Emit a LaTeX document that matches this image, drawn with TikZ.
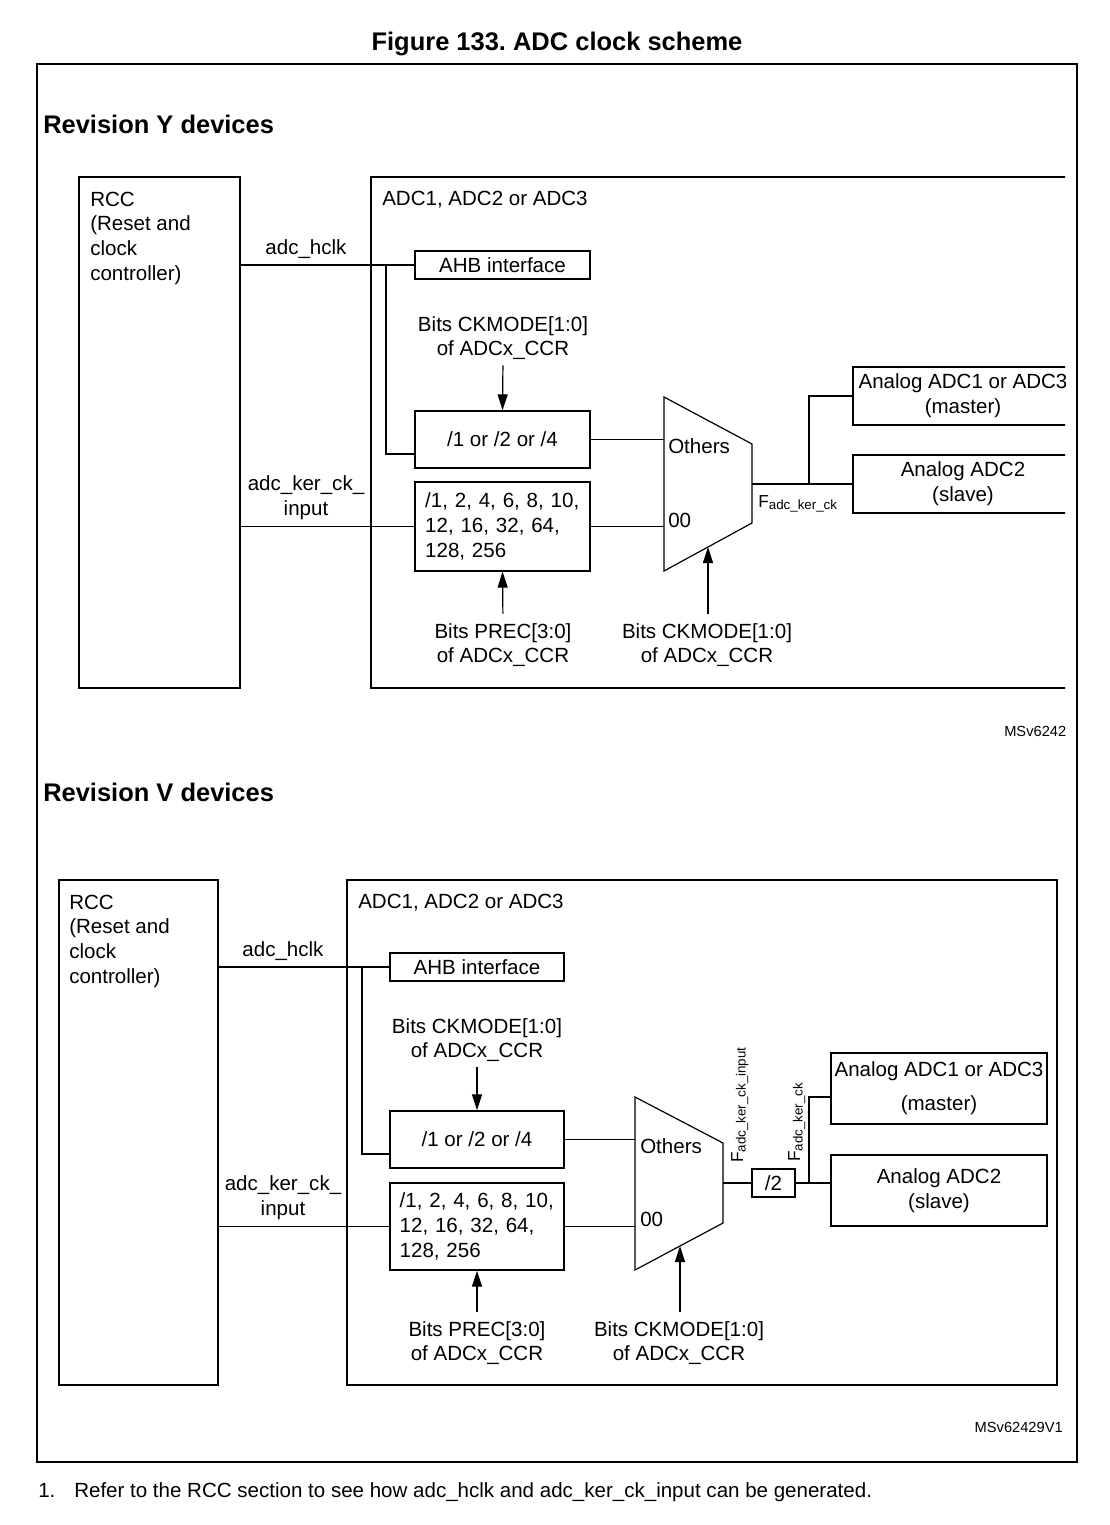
\documentclass[tikz,border=0pt]{standalone}
\usepackage{fontspec}
\setmainfont{Liberation Sans}
\usetikzlibrary{arrows.meta}
\frenchspacing
\newcommand\fsbody{\fontsize{15.4pt}{18.5pt}\selectfont}
\newcommand\fshead{\bfseries\fontsize{19.1pt}{22pt}\selectfont}
\newcommand\fssmall{\fontsize{11pt}{13pt}\selectfont}
\newcommand\fsF{\fontsize{13pt}{15pt}\selectfont}
\newcommand\fsSub{\fontsize{10pt}{12pt}\selectfont}
\newcommand\Fsub[1]{{\fsF F\raisebox{-2pt}{\fsSub #1}}}
\begin{document}
\begin{tikzpicture}[x=0.75pt,y=-0.75pt,
  every node/.style={inner sep=0pt, font=\fsbody},
  bigbox/.style={draw, line width=1.8pt},
  sbox/.style={draw, line width=1pt},
  sz/.style 2 args={minimum width=#1*0.75pt, minimum height=#2*0.75pt},
  wire/.style={line width=0.9pt},
  arr/.style={line width=0.9pt, -{Triangle[width=7.5pt,length=12pt]}},
  lbl/.style={align=center},
  head/.style={anchor=west, font=\fshead}]
\useasboundingbox (0,0) rectangle (1110,1525);

\node[font=\fshead] (title) at (557,44) {Figure 133. ADC clock scheme};
\node[draw, line width=1.5pt, sz={1040}{1398}] (frame) at (557,763) {};

% ---------------- Revision Y ----------------
\node[head] (revY) at (43,124) {Revision Y devices};
\begin{scope}
\clip (30,150) rectangle (1065,760);
\node[bigbox, sz={161}{511}] (rccY) at (159.5,432.5) {};
\node[anchor=north west, align=left] (rccYt) at (90,191.5) {RCC\\(Reset and\\clock\\controller)};
\node[bigbox, sz={720}{511}] (adcY) at (731,432.5) {};
\node[anchor=west] (adcYt) at (382,200) {ADC1, ADC2 or ADC3};
\node[sbox, sz={175}{28}] (ahbY) at (502.5,265) {AHB interface};
\node[sbox, sz={175}{57}] (divY) at (502.5,439.5) {/1 or /2 or /4};
\node[sbox, sz={175}{89}, align=left, text width=116pt] (preY) at (502.5,526.5) {/1, 2, 4, 6, 8, 10,\\12, 16, 32, 64,\\128, 256};
\node[sbox, sz={220}{58}, align=center] (mastY) at (963,396) {Analog ADC1 or ADC3\\(master)};
\node[sbox, sz={220}{58}, align=center] (slavY) at (963,484) {Analog ADC2\\(slave)};

\coordinate (mYa) at (664,397);
\coordinate (mYb) at (752,444);
\coordinate (mYc) at (752,523);
\coordinate (mYd) at (664,571);
\coordinate (mYout) at (752,484);
\coordinate (mYsel) at (708,547);
\draw[wire] (mYa) -- (mYb) -- (mYc) -- (mYd) -- cycle;
\node[anchor=west] (othY) at (668,446) {Others};
\node[anchor=west] (zzY) at (668,520) {00};

\node[lbl] (hclkY) at (306,249) {adc\_hclk};
\node[lbl] (kerY) at (306,498) {adc\_ker\_ck\_\\input};
\node[lbl] (ckmY1) at (503,338) {Bits CKMODE[1:0]\\of ADCx\_CCR};
\node[lbl] (precY) at (503,645) {Bits PREC[3:0]\\of ADCx\_CCR};
\node[lbl] (ckmY2) at (707,645) {Bits CKMODE[1:0]\\of ADCx\_CCR};

\coordinate (bY) at (386,265);
\coordinate (divYin) at (415,454);
\coordinate (jY) at (809,484);
\draw[wire] (rccY.east |- ahbY.west) -- (ahbY.west);
\draw[wire] (bY) |- (divYin);
\draw[wire] (rccY.east |- preY.west) -- (preY.west);
\draw[wire] (divY.east) -- (divY.east -| mYa);
\draw[wire] (preY.east) -- (preY.east -| mYa);
\draw[wire] (mYout) -- (slavY.west |- mYout);
\draw[wire] (jY) |- (mastY.west);
\draw[arr, shorten <=4pt] (ckmY1.south) -- (divY.north);
\draw[arr, shorten <=7pt] (precY.north) -- (preY.south);
\draw[arr, shorten <=7pt] (ckmY2.north -| mYsel) -- (mYsel);

\node[anchor=base west] (fY) at (758,507) {\Fsub{adc\_ker\_ck}};
\node[anchor=west, font=\fssmall] (msY) at (1004,731) {MSv62429V1};
\end{scope}

% ---------------- Revision V ----------------
\node[head] (revV) at (43,792) {Revision V devices};
\node[bigbox, sz={159}{505}] (rccV) at (138.5,1132.5) {};
\node[anchor=north west, align=left] (rccVt) at (69,894.5) {RCC\\(Reset and\\clock\\controller)};
\node[bigbox, sz={710}{505}] (adcV) at (702,1132.5) {};
\node[anchor=west] (adcVt) at (358,903) {ADC1, ADC2 or ADC3};
\node[sbox, sz={174}{28}] (ahbV) at (477,967) {AHB interface};
\node[sbox, sz={174}{57}] (divV) at (477,1139.5) {/1 or /2 or /4};
\node[sbox, sz={174}{87}, align=left, text width=116pt] (preV) at (477,1226.5) {/1, 2, 4, 6, 8, 10,\\12, 16, 32, 64,\\128, 256};
\node[sbox, sz={43}{28}] (d2V) at (773.5,1183) {/2};
\node[sbox, sz={216}{71}, align=center] (mastV) at (939,1088.5) {Analog ADC1 or ADC3\\[7pt](master)};
\node[sbox, sz={216}{71}, align=center] (slavV) at (939,1190.5) {Analog ADC2\\(slave)};

\coordinate (mVa) at (635,1097);
\coordinate (mVb) at (723,1143);
\coordinate (mVc) at (723,1223);
\coordinate (mVd) at (635,1270);
\coordinate (mVout) at (723,1183);
\coordinate (mVsel) at (680,1246);
\draw[wire] (mVa) -- (mVb) -- (mVc) -- (mVd) -- cycle;
\node[anchor=west] (othV) at (640,1146) {Others};
\node[anchor=west] (zzV) at (640,1219) {00};

\node[lbl] (hclkV) at (283,951) {adc\_hclk};
\node[lbl] (kerV) at (283,1198) {adc\_ker\_ck\_\\input};
\node[lbl] (ckmV1) at (477,1040) {Bits CKMODE[1:0]\\of ADCx\_CCR};
\node[lbl] (precV) at (477,1343) {Bits PREC[3:0]\\of ADCx\_CCR};
\node[lbl] (ckmV2) at (679,1343) {Bits CKMODE[1:0]\\of ADCx\_CCR};

\coordinate (bV) at (362,967);
\coordinate (divVin) at (390,1154);
\coordinate (jV) at (809,1183);
\coordinate (mastVin) at (831,1097);
\draw[wire] (rccV.east |- ahbV.west) -- (ahbV.west);
\draw[wire] (bV) |- (divVin);
\draw[wire] (rccV.east |- preV.west) -- (preV.west);
\draw[wire] (divV.east) -- (divV.east -| mVa);
\draw[wire] (preV.east) -- (preV.east -| mVa);
\draw[wire] (mVout) -- (d2V.west);
\draw[wire] (d2V.east) -- (slavV.west |- d2V.east);
\draw[wire] (jV) |- (mastVin);
\draw[arr, shorten <=4pt] (ckmV1.south) -- (divV.north);
\draw[arr, shorten <=7pt] (precV.north) -- (preV.south);
\draw[arr, shorten <=7pt] (ckmV2.north -| mVsel) -- (mVsel);

\node[rotate=90, anchor=base west] (fV1) at (743,1163) {\Fsub{adc\_ker\_ck\_input}};
\node[rotate=90, anchor=base west] (fV2) at (800,1162) {\Fsub{adc\_ker\_ck}};
\node[anchor=east, font=\fssmall] (msV) at (1063,1427) {MSv62429V1};

% footnote
\node[anchor=base west] (fn1) at (38,1497) {1.};
\node[anchor=base west] (fn2) at (74,1497) {Refer to the RCC section to see how adc\_hclk and adc\_ker\_ck\_input can be generated.};
\end{tikzpicture}
\end{document}
